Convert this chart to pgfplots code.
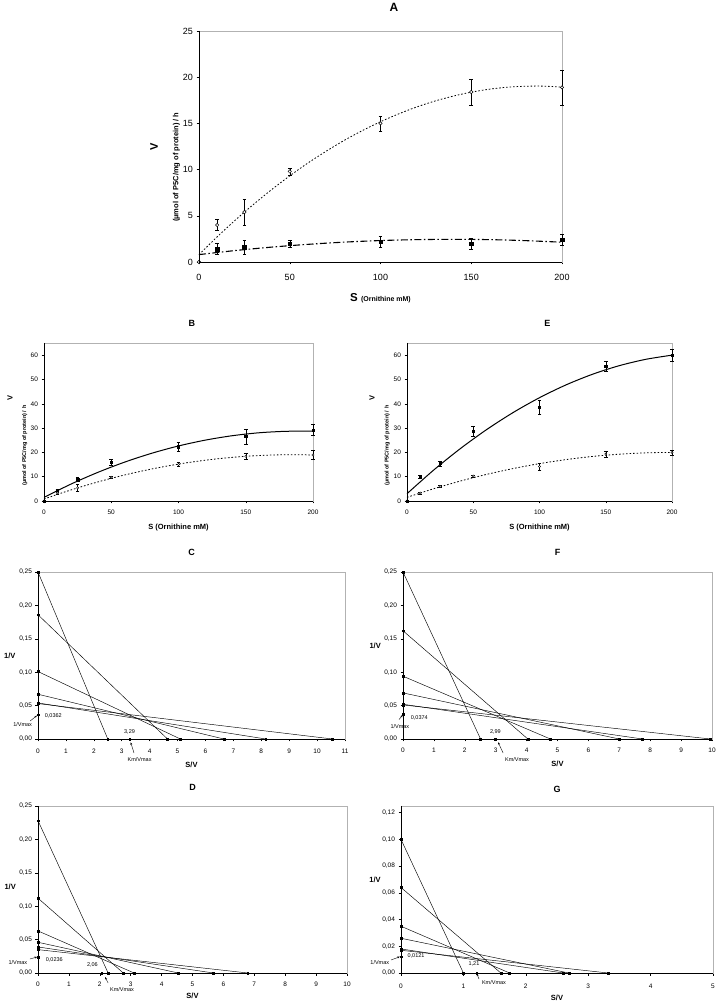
\documentclass[border=0pt]{standalone}
\usepackage{pgfplots}
\pgfplotsset{compat=1.18}
\usepackage{fontspec}
\setmainfont{Liberation Sans}
\usetikzlibrary{arrows.meta}
\newcommand{\fs}[1]{\fontsize{#1}{#1}\selectfont}

\tikzset{
  ann/.style={font=\fs{5.5}},
  arr/.style={-{Stealth[length=2.5pt,width=2pt]}, line width=0.4pt},
}
\pgfplotsset{
  panel/.style={scale only axis, anchor=south west, clip=false,
    axis line style={gray!60, line width=0.5pt},
    tick pos=left, tick align=outside, major tick length=2.5pt,
    tick style={black, line width=0.5pt},
    /pgf/number format/assume math mode=true,
    tick label style={font=\fs{6.5}},
    after end axis/.code={\draw[black, line width=0.6pt] (rel axis cs:0,1) -- (rel axis cs:0,0) -- (rel axis cs:1,0);},
  },
  mm/.style={panel, xmin=0, xmax=200, ymin=0, ymax=65,
    xtick={0,50,100,150,200}, ytick={0,10,20,30,40,50,60},
    width=267pt, height=158pt,
    xticklabel style={yshift=-3pt},
    xlabel={S (Ornithine mM)},
    xlabel style={font=\bfseries\fs{7.5}, at={(axis description cs:0.5,0)}, anchor=center, yshift=-27pt},
    ylabel={(µmol of P5C/mg of protein) / h},
    ylabel style={font=\bfseries\fs{5.5}, at={(axis description cs:-0.072,0.35)}, anchor=center},
    title style={font=\bfseries\fs{9}, anchor=center, yshift=14pt}},
  hanes/.style={panel, xmin=0, ymin=0, ymax=0.25, height=167pt,
    ytick={0,0.05,0.1,0.15,0.2,0.25},
    yticklabel style={/pgf/number format/.cd, use comma, fixed, fixed zerofill, precision=2},
    xlabel={S/V}, ylabel={1/V},
    xlabel style={font=\bfseries\fs{7.5}, anchor=center},
    ylabel style={rotate=-90, font=\bfseries\fs{7.5}, anchor=center},
    title style={font=\bfseries\fs{9}, anchor=center}},
  hl/.style={black, line width=0.45pt, mark=square*, mark size=0.9pt},
  dotc/.style={black, line width=0.8pt, dash pattern=on 1.6pt off 1.9pt, smooth},
  eb/.style={only marks, error bars/y dir=both, error bars/y explicit,
    error bars/error bar style={black, line width=0.45pt, solid},
    error bars/error mark options={black, mark size=1.8pt, line width=0.45pt, rotate=90}},
}

\begin{document}
\begin{tikzpicture}
\path[use as bounding box] (0pt,0pt) rectangle (717pt,1004pt);

% ---------------- A ----------------
\begin{axis}[panel, at={(199pt,742pt)}, width=363pt, height=231pt,
  xmin=0, xmax=200, ymin=0, ymax=25,
  xtick={0,50,100,150,200}, ytick={0,5,10,15,20,25},
  tick label style={font=\fs{9}}, xticklabel style={yshift=-6pt},
  title={A}, title style={font=\bfseries\fs{12}, at={(axis description cs:0.537,1)}, anchor=center, yshift=18pt},
  xlabel={S {\fs{7}(Ornithine mM)}},
  xlabel style={font=\bfseries\fs{11.5}, at={(axis description cs:0.5,0)}, anchor=center, yshift=-36pt},
  ylabel={(µmol of P5C/mg of protein) / h},
  ylabel style={font=\bfseries\fs{7.5}, at={(axis description cs:-0.062,0.41)}, anchor=center}]
\addplot[dotc] coordinates {(0,0.8) (10,2.72) (20,4.53) (30,6.23) (40,7.83) (50,9.32) (60,10.71) (70,11.98) (80,13.16) (90,14.22) (100,15.18) (110,16.03) (120,16.78) (130,17.42) (140,17.95) (150,18.38) (160,18.70) (170,18.92) (180,19.02) (190,19.03) (200,18.92)};
\addplot[black, line width=1.1pt, smooth, dash pattern=on 7pt off 2.5pt on 1.5pt off 2.5pt] coordinates {(0,0.8) (20,1.24) (40,1.61) (60,1.91) (80,2.15) (100,2.32) (120,2.42) (140,2.45) (160,2.42) (180,2.31) (200,2.14)};
\addplot[eb, mark=*, mark size=1.7pt, mark options={fill=white, draw=black, line width=0.5pt}] coordinates {
  (0,0) +- (0,0) (10,4.0) +- (0,0.6) (25,5.4) +- (0,1.4) (50,9.8) +- (0,0.4)
  (100,15.0) +- (0,0.8) (150,18.4) +- (0,1.4) (200,18.9) +- (0,1.9)};
\addplot[eb, mark=square*, mark size=1.8pt, mark options={fill=black, draw=black}] coordinates {
  (10,1.4) +- (0,0.6) (25,1.6) +- (0,0.8) (50,2.0) +- (0,0.4)
  (100,2.2) +- (0,0.6) (150,2.0) +- (0,0.6) (200,2.4) +- (0,0.6)};
\node[font=\bfseries\fs{11}, rotate=90] at (axis description cs:-0.124,0.498) {V};
\end{axis}

% ---------------- B ----------------
\begin{axis}[mm, at={(44pt,503pt)}, width=269pt,
  title={B}, title style={at={(axis description cs:0.55,1)}}]
\addplot[black, line width=1pt, smooth] coordinates {(0,1.5) (20,6.94) (40,11.77) (60,16.0) (80,19.62) (100,22.64) (120,25.05) (140,26.86) (160,28.07) (180,28.67) (200,28.7)};
\addplot[dotc] coordinates {(0,0.8) (10,2.72) (20,4.53) (30,6.23) (40,7.83) (50,9.32) (60,10.71) (70,11.98) (80,13.16) (90,14.22) (100,15.18) (110,16.03) (120,16.78) (130,17.42) (140,17.95) (150,18.38) (160,18.70) (170,18.92) (180,19.02) (190,19.03) (200,18.92)};
\addplot[eb, mark=*, mark size=1.1pt, mark options={fill=white, draw=black, line width=0.4pt}] coordinates {
  (0,0) +- (0,0) (10,3.3) +- (0,0.5) (25,5.4) +- (0,1.4) (50,9.8) +- (0,0.4)
  (100,15.0) +- (0,0.8) (150,18.4) +- (0,1.4) (200,18.9) +- (0,1.9)};
\addplot[eb, mark=square*, mark size=1.1pt, mark options={fill=black, draw=black}] coordinates {
  (0,0) +- (0,0) (10,4.3) +- (0,0.5) (25,8.8) +- (0,0.8) (50,16.1) +- (0,1.2)
  (100,22.3) +- (0,1.8) (150,26.5) +- (0,3.0) (200,29.2) +- (0,2.2)};
\node[font=\bfseries\fs{7.5}, rotate=90] at (axis description cs:-0.126,0.65) {V};
\end{axis}

% ---------------- E ----------------
\begin{axis}[mm, at={(407pt,503pt)}, width=265pt,
  title={E}, title style={at={(axis description cs:0.53,1)}},
  ylabel style={at={(axis description cs:-0.075,0.35)}}]
\addplot[black, line width=1pt, smooth] coordinates {(0,3) (20,12.66) (40,21.44) (60,29.34) (80,36.36) (100,42.5) (120,47.76) (140,52.14) (160,55.64) (180,58.26) (200,60)};
\addplot[dotc] coordinates {(0,1.5) (20,5.02) (40,8.16) (60,10.93) (80,13.34) (100,15.37) (120,17.03) (140,18.33) (160,19.25) (180,19.8) (200,20.0)};
\addplot[eb, mark=*, mark size=1.1pt, mark options={fill=white, draw=black, line width=0.4pt}] coordinates {
  (0,0) +- (0,0) (10,3.3) +- (0,0.5) (25,6.0) +- (0,0.5) (50,10.3) +- (0,0.5)
  (100,14.2) +- (0,1.5) (150,19.3) +- (0,1.2) (200,20.0) +- (0,1.0)};
\addplot[eb, mark=square*, mark size=1.1pt, mark options={fill=black, draw=black}] coordinates {
  (0,0) +- (0,0) (10,10.0) +- (0,0.5) (25,15.5) +- (0,1.0) (50,28.8) +- (0,2.0)
  (100,38.5) +- (0,3.0) (150,55.4) +- (0,2.0) (200,60.0) +- (0,2.3)};
\node[font=\bfseries\fs{7.5}, rotate=90] at (axis description cs:-0.132,0.65) {V};
\end{axis}

% ---------------- C ----------------
\begin{axis}[hanes, at={(38pt,265pt)}, width=307pt, xmax=11,
  xtick={0,1,2,3,4,5,6,7,8,9,10,11}, xticklabel style={yshift=-4pt},
  title={C}, title style={at={(axis description cs:0.5,1)}, yshift=14pt},
  xlabel style={at={(axis description cs:0.5,0)}, yshift=-26pt},
  ylabel style={at={(axis description cs:-0.092,0.50)}}]
\addplot[hl] coordinates {(0,0.250) (2.50,0)};
\addplot[hl] coordinates {(0,0.186) (4.64,0)};
\addplot[hl] coordinates {(0,0.101) (5.10,0)};
\addplot[hl] coordinates {(0,0.067) (6.66,0)};
\addplot[hl] coordinates {(0,0.054) (8.16,0)};
\addplot[hl] coordinates {(0,0.053) (10.55,0)};
\addplot[only marks, mark=square*, mark size=0.8pt, black] coordinates {(0,0.0362) (3.29,0)};
\node[ann, anchor=west] at (axis cs:0.12,0.034) {0,0362};
\node[ann] at (axis cs:-0.55,0.022) {1/Vmax};
\draw[arr] (axis cs:-0.28,0.027) -- (axis cs:-0.04,0.035);
\node[ann] at (axis cs:3.28,0.010) {3,29};
\node[ann] at (axis cs:3.64,-0.030) {Km/Vmax};
\draw[arr] (axis cs:3.44,-0.021) -- (axis cs:3.32,-0.005);
\end{axis}

% ---------------- F ----------------
\begin{axis}[hanes, at={(403pt,265pt)}, width=309pt, xmax=10,
  xtick={0,1,2,3,4,5,6,7,8,9,10}, xticklabel style={yshift=-2.5pt},
  title={F}, title style={at={(axis description cs:0.5,1)}, yshift=14pt},
  xlabel style={at={(axis description cs:0.5,0)}, yshift=-25pt},
  ylabel style={at={(axis description cs:-0.09,0.557)}}]
\addplot[hl] coordinates {(0,0.250) (2.51,0)};
\addplot[hl] coordinates {(0,0.162) (4.04,0)};
\addplot[hl] coordinates {(0,0.094) (4.77,0)};
\addplot[hl] coordinates {(0,0.069) (7.00,0)};
\addplot[hl] coordinates {(0,0.052) (7.75,0)};
\addplot[hl] coordinates {(0,0.051) (9.95,0)};
\addplot[only marks, mark=square*, mark size=0.8pt, black] coordinates {(0,0.0374) (2.99,0)};
\node[ann, anchor=west] at (axis cs:0.14,0.031) {0,0374};
\node[ann] at (axis cs:-0.1,0.019) {1/Vmax};
\draw[arr] (axis cs:-0.13,0.029) -- (axis cs:-0.01,0.036);
\node[ann] at (axis cs:2.99,0.011) {2,99};
\node[ann] at (axis cs:3.69,-0.030) {Km/Vmax};
\draw[arr] (axis cs:3.24,-0.021) -- (axis cs:3.08,-0.005);
\end{axis}

% ---------------- D ----------------
\begin{axis}[hanes, at={(38pt,31pt)}, width=309pt, xmax=10,
  xtick={0,1,2,3,4,5,6,7,8,9,10}, xticklabel style={yshift=-3pt},
  title={D}, title style={at={(axis description cs:0.5,1)}, yshift=13pt},
  xlabel style={at={(axis description cs:0.5,0)}, yshift=-23pt},
  ylabel style={at={(axis description cs:-0.09,0.515)}}]
\addplot[hl] coordinates {(0,0.228) (2.27,0)};
\addplot[hl] coordinates {(0,0.112) (2.76,0)};
\addplot[hl] coordinates {(0,0.063) (3.11,0)};
\addplot[hl] coordinates {(0,0.046) (4.54,0)};
\addplot[hl] coordinates {(0,0.039) (5.68,0)};
\addplot[hl] coordinates {(0,0.035) (6.79,0)};
\addplot[only marks, mark=square*, mark size=0.8pt, black] coordinates {(0,0.0236) (2.06,0)};
\node[ann, anchor=west] at (axis cs:0.14,0.019) {0,0236};
\node[ann] at (axis cs:-0.65,0.015) {1/Vmax};
\draw[arr] (axis cs:-0.26,0.021) -- (axis cs:-0.03,0.024);
\node[ann] at (axis cs:1.76,0.012) {2,06};
\node[ann] at (axis cs:2.72,-0.025) {Km/Vmax};
\draw[arr] (axis cs:2.27,-0.015) -- (axis cs:2.17,-0.006);
\end{axis}

% ---------------- G ----------------
\begin{axis}[hanes, at={(401pt,31pt)}, width=312pt, xmax=5, ymax=0.125,
  xtick={0,1,2,3,4,5}, ytick={0,0.02,0.04,0.06,0.08,0.1,0.12},
  xticklabel style={yshift=-5pt},
  title={G}, title style={at={(axis description cs:0.5,1)}, yshift=11pt},
  xlabel style={at={(axis description cs:0.5,0)}, yshift=-25pt},
  ylabel style={at={(axis description cs:-0.083,0.557)}}]
\addplot[hl] coordinates {(0,0.100) (1.00,0)};
\addplot[hl] coordinates {(0,0.064) (1.60,0)};
\addplot[hl] coordinates {(0,0.035) (1.74,0)};
\addplot[hl] coordinates {(0,0.026) (2.69,0)};
\addplot[hl] coordinates {(0,0.018) (2.60,0)};
\addplot[hl] coordinates {(0,0.017) (3.32,0)};
\addplot[only marks, mark=square*, mark size=0.8pt, black] coordinates {(0,0.0121) (1.21,0)};
\node[ann, anchor=west] at (axis cs:0.05,0.0125) {0,0121};
\node[ann] at (axis cs:-0.34,0.0075) {1/Vmax};
\draw[arr] (axis cs:-0.16,0.0097) -- (axis cs:-0.02,0.0122);
\node[ann] at (axis cs:1.17,0.0067) {1,21};
\node[ann] at (axis cs:1.49,-0.0075) {Km/Vmax};
\draw[arr] (axis cs:1.25,-0.0045) -- (axis cs:1.215,-0.0005);
\end{axis}
\end{tikzpicture}
\end{document}
